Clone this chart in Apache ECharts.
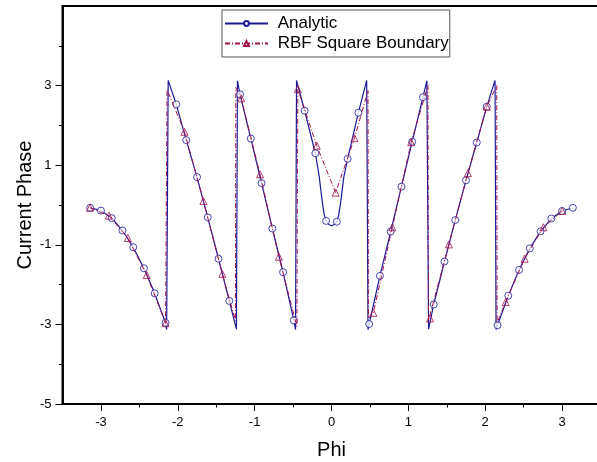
<!DOCTYPE html>
<html>
<head>
<meta charset="utf-8">
<script src="https://cdn.jsdelivr.net/npm/echarts@6/dist/echarts.min.js"></script>
<style>
html,body{margin:0;padding:0;background:#fff;}
#c{width:597px;height:462px;}
</style>
</head>
<body>
<div id="c"></div>
<script>
// ---- data ----
const seriesNames = ['Analytic', 'RBF Square Boundary'];

// Analytic: line path (includes vertical wrap jumps and the dip near 0)
const analyticLinePhi = [-3.14,-3.00,-2.86,-2.72,-2.58,-2.44,-2.30,-2.16,-2.145,-2.125,-2.02,-1.89,-1.75,-1.61,-1.47,-1.33,-1.237,-1.224,-1.19,-1.05,-0.91,-0.77,-0.63,-0.49,-0.468,-0.455,-0.35,-0.21,-0.16,-0.12,-0.095,-0.07,-0.035,0,0.035,0.07,0.095,0.12,0.16,0.21,0.35,0.458,0.475,0.49,0.63,0.77,0.91,1.05,1.19,1.241,1.263,1.33,1.47,1.61,1.75,1.89,2.02,2.128,2.141,2.16,2.30,2.44,2.58,2.72,2.86,3.00,3.14];
const analyticLineVal = [-0.07,-0.14,-0.33,-0.64,-1.06,-1.59,-2.22,-2.96,-3.13,3.13,2.53,1.63,0.70,-0.31,-1.35,-2.41,-3.12,3.12,2.78,1.67,0.55,-0.59,-1.69,-2.90,-3.13,3.13,2.37,1.30,0.72,0.08,-0.24,-0.40,-0.49,-0.52,-0.49,-0.42,-0.24,0.08,0.70,1.16,2.32,3.13,-3.13,-2.99,-1.78,-0.67,0.46,1.59,2.71,3.12,-3.12,-2.50,-1.42,-0.38,0.62,1.57,2.47,3.13,-3.13,-3.02,-2.28,-1.63,-1.09,-0.66,-0.34,-0.15,-0.07];

// Analytic: circle markers
const analyticMarkPhi = [-3.14,-3.00,-2.86,-2.72,-2.58,-2.44,-2.30,-2.16,-2.02,-1.89,-1.75,-1.61,-1.47,-1.33,-1.19,-1.05,-0.91,-0.77,-0.63,-0.49,-0.35,-0.21,-0.07,0.07,0.21,0.35,0.49,0.63,0.77,0.91,1.05,1.19,1.33,1.47,1.61,1.75,1.89,2.02,2.16,2.30,2.44,2.58,2.72,2.86,3.00,3.14];
const analyticMarkVal = [-0.07,-0.14,-0.33,-0.64,-1.06,-1.59,-2.22,-2.96,2.53,1.63,0.70,-0.31,-1.35,-2.41,2.78,1.67,0.55,-0.59,-1.69,-2.90,2.37,1.30,-0.40,-0.42,1.16,2.32,-2.99,-1.78,-0.67,0.46,1.59,2.71,-2.50,-1.42,-0.38,0.62,1.57,2.47,-3.02,-2.28,-1.63,-1.09,-0.66,-0.34,-0.15,-0.07];

// RBF Square Boundary: line path (with wrap jumps)
const rbfLinePhi = [-3.142,-2.896,-2.650,-2.404,-2.159,-2.145,-2.14,-1.913,-1.667,-1.421,-1.25,-1.245,-1.175,-0.930,-0.684,-0.45,-0.438,-0.192,0.054,0.299,0.475,0.48,0.545,0.791,1.037,1.255,1.262,1.283,1.528,1.774,2.020,2.15,2.155,2.266,2.512,2.757,3.003];
const rbfLineVal = [-0.07,-0.27,-0.83,-1.76,-2.97,-3.00,2.90,1.84,0.10,-1.73,-2.90,2.95,2.68,0.77,-1.30,-3.05,2.91,1.49,0.31,1.68,2.87,-2.85,-2.71,-0.56,1.58,3.00,-2.90,-2.85,-0.99,0.80,2.47,3.00,-2.96,-2.44,-1.35,-0.56,-0.15];

// RBF Square Boundary: triangle markers
const rbfMarkPhi = [-3.142,-2.896,-2.650,-2.404,-2.159,-1.913,-1.667,-1.421,-1.175,-0.930,-0.684,-0.438,-0.192,0.054,0.299,0.545,0.791,1.037,1.283,1.528,1.774,2.020,2.266,2.512,2.757,3.003];
const rbfMarkVal = [-0.07,-0.27,-0.83,-1.76,-2.97,1.84,0.10,-1.73,2.68,0.77,-1.30,2.91,1.49,0.31,1.68,-2.71,-0.56,1.58,-2.85,-0.99,0.80,2.47,-2.44,-1.35,-0.56,-0.15];

// axis ticks
const xMajorTicks = [-3,-2,-1,0,1,2,3];
const xMinorTicks = [-2.5,-1.5,-0.5,0.5,1.5,2.5];
const yMajorTicks = [-5,-3,-1,1,3];
const yMinorTicks = [-4,-2,0,2,4];

// ---- chart ----
const zip = (a, b) => a.map((v, i) => [v, b[i]]);
const blue = '#1b1b98';
const red = '#a3104e';
const FONT = 'Liberation Sans, Arial, sans-serif';

const chart = echarts.init(document.getElementById('c'), null, {renderer: 'canvas'});
chart.setOption({
  animation: false,
  backgroundColor: '#fff',
  grid: {left: 62.5, top: 6, width: 538, bottom: 58, outerBoundsMode: 'none', containLabel: false,
         show: true, borderColor: '#000', borderWidth: 2, backgroundColor: 'transparent'},
  legend: {
    data: seriesNames,
    orient: 'vertical',
    left: 222, top: 10,
    padding: [5, 1, 5, 2],
    itemGap: 3,
    itemWidth: 43, itemHeight: 6,
    borderColor: '#555', borderWidth: 1,
    backgroundColor: '#fff',
    formatter: n => ' ' + n,
    textStyle: {fontSize: 17, fontFamily: FONT, color: '#000', lineHeight: 17}
  },
  xAxis: [{
    type: 'value', min: -3.5, max: 3.5, interval: 0.5,
    name: 'Phi', nameLocation: 'middle', nameGap: 36, nameMoveOverlap: false,
    nameTextStyle: {fontSize: 20, fontFamily: FONT, color: '#000'},
    axisLine: {show: true, onZero: false, lineStyle: {color: '#000', width: 2}},
    axisTick: {show: true, customValues: xMajorTicks, length: 7, lineStyle: {color: '#000', width: 1}},
    axisLabel: {customValues: xMajorTicks, fontSize: 13, fontFamily: FONT, color: '#000', margin: 12},
    splitLine: {show: false}
  }, {
    type: 'value', min: -3.5, max: 3.5, interval: 0.5, position: 'bottom',
    axisLine: {show: false, onZero: false},
    axisTick: {show: true, customValues: xMinorTicks, length: 3.5, lineStyle: {color: '#000', width: 1}},
    axisLabel: {show: false},
    splitLine: {show: false}
  }],
  yAxis: [{
    type: 'value', min: -5, max: 5, interval: 1,
    name: 'Current Phase', nameLocation: 'middle', nameGap: 27, nameMoveOverlap: false,
    nameTextStyle: {fontSize: 20, fontFamily: FONT, color: '#000'},
    axisLine: {show: true, onZero: false, lineStyle: {color: '#000', width: 2}},
    axisTick: {show: true, customValues: yMajorTicks, length: 7, lineStyle: {color: '#000', width: 1}},
    axisLabel: {customValues: yMajorTicks, fontSize: 13, fontFamily: FONT, color: '#000', margin: 11},
    splitLine: {show: false}
  }, {
    type: 'value', min: -5, max: 5, interval: 1, position: 'left',
    axisLine: {show: false, onZero: false},
    axisTick: {show: true, customValues: yMinorTicks, length: 3.5, lineStyle: {color: '#000', width: 1}},
    axisLabel: {show: false},
    splitLine: {show: false}
  }],
  series: [{
    name: seriesNames[0], type: 'line', xAxisIndex: 0, yAxisIndex: 0,
    data: zip(analyticLinePhi, analyticLineVal),
    showSymbol: false, symbol: 'emptyCircle',
    itemStyle: {color: blue},
    lineStyle: {color: blue, width: 1.2},
    z: 2
  }, {
    name: seriesNames[0], type: 'scatter', xAxisIndex: 0, yAxisIndex: 0,
    data: zip(analyticMarkPhi, analyticMarkVal),
    symbol: 'circle', symbolSize: 7,
    itemStyle: {color: '#fff', borderColor: blue, borderWidth: 1},
    z: 3
  }, {
    name: seriesNames[1], type: 'line', xAxisIndex: 0, yAxisIndex: 0,
    data: zip(rbfLinePhi, rbfLineVal),
    showSymbol: false, symbol: 'emptyTriangle',
    itemStyle: {color: red},
    lineStyle: {color: red, width: 1, type: [5, 2, 1, 2]},
    z: 4
  }, {
    name: seriesNames[1], type: 'scatter', xAxisIndex: 0, yAxisIndex: 0,
    data: zip(rbfMarkPhi, rbfMarkVal),
    symbol: 'triangle', symbolSize: 7,
    itemStyle: {color: 'rgba(255,255,255,0)', borderColor: red, borderWidth: 1},
    z: 5
  }]
});
</script>
</body>
</html>
